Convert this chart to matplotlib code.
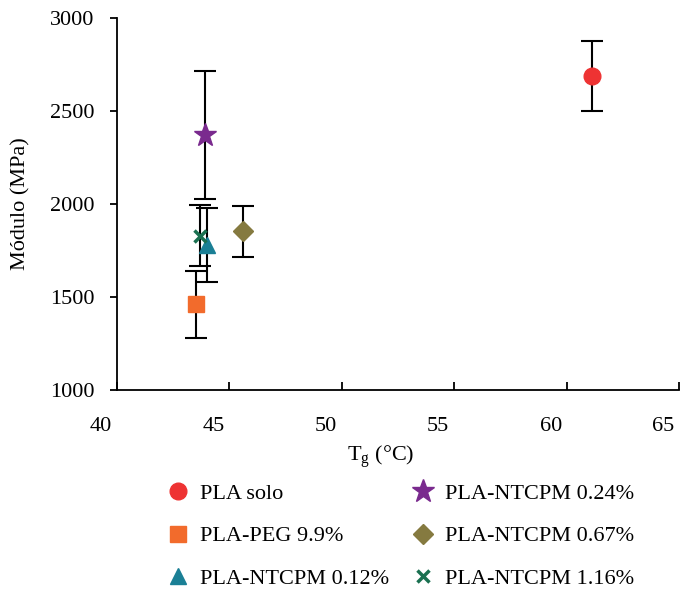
import matplotlib.pyplot as plt
import matplotlib.transforms as mtransforms

# data
labels = ['PLA solo', 'PLA-PEG 9.9%', 'PLA-NTCPM 0.12%',
          'PLA-NTCPM 0.24%', 'PLA-NTCPM 0.67%', 'PLA-NTCPM 1.16%']
tg = [61.15, 43.5, 44.0, 43.9, 45.6, 43.7]
modulo = [2686, 1460, 1780, 2370, 1852, 1830]
err = [187, 180, 200, 345, 135, 165]

colors = ['#EE3333', '#F26B2C', '#1A7F95', '#7A2A8E', '#857A40', '#1A7050']
markers = ['o', 's', '^', '*', 'D', 'x']
sizes = [12, 11.5, 12, 17, 10.5, 9]

plt.rcParams['font.family'] = ['Liberation Serif', 'DejaVu Serif']

fig = plt.figure(figsize=(6.88, 5.92), dpi=100)
ax = fig.add_axes([0.170, 0.341, 0.817, 0.629])

for i in range(len(labels)):
    ax.errorbar(tg[i], modulo[i], yerr=err[i], fmt='none', ecolor='black',
                elinewidth=1.5, capsize=8, capthick=1.5, zorder=2)
for i in range(len(labels)):
    ax.plot(tg[i], modulo[i], linestyle='none', marker=markers[i],
            color=colors[i], markersize=sizes[i], mew=2.5 if markers[i] == 'x' else 1,
            label=labels[i], zorder=3)

ax.set_xlim(40, 65)
ax.set_ylim(1000, 3000)
ax.set_xticks([40, 45, 50, 55, 60, 65])
ax.set_yticks([1000, 1500, 2000, 2500, 3000])
ax.spines['top'].set_visible(False)
ax.spines['right'].set_visible(False)
ax.spines['left'].set_linewidth(1.3)
ax.spines['bottom'].set_linewidth(1.3)
ax.tick_params(axis='y', direction='out', length=5, width=1.3, labelsize=16, pad=11)
ax.tick_params(axis='x', direction='in', length=6, width=1.3, labelsize=16, pad=19)

# label sumbu x digeser ke kiri seperti di gambar asli
geser = mtransforms.ScaledTranslation(-16 / 100, 0, fig.dpi_scale_trans)
for lbl in ax.get_xticklabels():
    lbl.set_transform(lbl.get_transform() + geser)

ax.set_xlabel(r'T$_\mathregular{g}$ (°C)', fontsize=16, labelpad=6)
ax.xaxis.label.set_x(0.47)
ax.set_ylabel('Módulo (MPa)', fontsize=16, labelpad=14)

fig.legend(loc='upper left', bbox_to_anchor=(167 / 688, 1 - 483 / 592), ncol=2,
           frameon=False, fontsize=16, columnspacing=1.0, labelspacing=1.0,
           handlelength=1.0, handletextpad=0.5, borderpad=0, borderaxespad=0)

plt.savefig('out.png', dpi=100)
